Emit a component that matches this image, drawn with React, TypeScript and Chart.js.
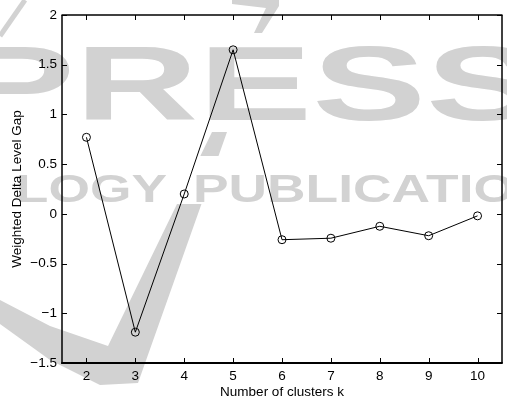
import React, { useEffect, useRef } from "react";
import { Chart, registerables } from "chart.js";

Chart.register(...registerables);

const clusters = [2, 3, 4, 5, 6, 7, 8, 9, 10];
const gapValues = [0.77, -1.19, 0.2, 1.65, -0.26, -0.245, -0.125, -0.22, -0.02];
const xTicks = [2, 3, 4, 5, 6, 7, 8, 9, 10];
const yTicks = [-1.5, -1, -0.5, 0, 0.5, 1, 1.5, 2];
const xTitle = "Number of clusters k";
const yTitle = "Weighted Delta Level Gap";

const FONT = "'Liberation Sans', Arial, Helvetica, sans-serif";
const FS = 13.5;
const WM = "#d2d2d2";

function poly(ctx: CanvasRenderingContext2D, pts: number[][]) {
  ctx.beginPath();
  ctx.moveTo(pts[0][0], pts[0][1]);
  for (let i = 1; i < pts.length; i++) ctx.lineTo(pts[i][0], pts[i][1]);
  ctx.closePath();
  ctx.fill();
}

const watermarkPlugin = {
  id: "watermark",
  beforeDraw(chart: any) {
    const ctx: CanvasRenderingContext2D = chart.ctx;
    ctx.save();
    ctx.fillStyle = "#fff";
    ctx.fillRect(0, 0, chart.width, chart.height);
    ctx.fillStyle = WM;
    ctx.strokeStyle = WM;
    // swoosh
    poly(ctx, [
      [0, 300], [50, 326], [108, 346], [212, 132], [227, 132],
      [138, 383], [100, 385], [50, 360], [0, 324],
    ]);
    // small strokes at top
    ctx.lineWidth = 5;
    ctx.beginPath();
    ctx.moveTo(0, 36);
    ctx.lineTo(25, 0);
    ctx.stroke();
    poly(ctx, [[232, 0], [279, 0], [279, 6], [262, 33], [254, 33], [266, 8], [232, 4]]);
    // knockouts
    ctx.fillStyle = "#fff";
    ctx.fillRect(150, 156, 90, 48);
    ctx.fillRect(150, 120, 100, 12);
    ctx.fillStyle = WM;
    ctx.textBaseline = "alphabetic";
    ctx.textAlign = "left";
    // PRESS
    ctx.font = `bold 105px ${FONT}`;
    const wP = ctx.measureText("P").width;
    const wR = ctx.measureText("RESS").width;
    const sx = 465 / wR;
    ctx.save();
    ctx.translate(75 - wP * sx, 120);
    ctx.scale(sx, 1);
    ctx.fillText("PRESS", 0, 0);
    ctx.restore();
    // second row
    ctx.font = `bold 39px ${FONT}`;
    const wPub = ctx.measureText("PUBLICATIO").width;
    const sx2 = 322 / wPub;
    ctx.save();
    ctx.translate(193, 202);
    ctx.scale(sx2, 1);
    ctx.fillText("PUBLICATIONS", 0, 0);
    ctx.restore();
    const wL = ctx.measureText("LOGY").width;
    ctx.save();
    ctx.translate(167 - wL * sx2, 202);
    ctx.scale(sx2, 1);
    ctx.fillText("LOGY", 0, 0);
    ctx.restore();
    ctx.restore();
  },
};

const boxPlugin = {
  id: "matlabBox",
  afterDraw(chart: any) {
    const ctx: CanvasRenderingContext2D = chart.ctx;
    const { left, right, top, bottom } = chart.chartArea;
    const xs = chart.scales.x;
    const ys = chart.scales.y;
    ctx.save();
    ctx.strokeStyle = "#000";
    const line = (x1: number, y1: number, x2: number, y2: number, w: number) => {
      ctx.lineWidth = w;
      ctx.beginPath();
      ctx.moveTo(x1, y1);
      ctx.lineTo(x2, y2);
      ctx.stroke();
    };
    const tl = 5;
    xTicks.forEach((v) => {
      const px = Math.round(xs.getPixelForValue(v)) + 0.5;
      line(px, bottom, px, bottom - tl, 1);
      line(px, top, px, top + tl, 1);
    });
    yTicks.forEach((v) => {
      const py = Math.round(ys.getPixelForValue(v)) + 0.5;
      line(left, py, left + tl, py, 1);
      line(right, py, right - tl, py, 1);
    });
    line(left - 0.5, top, right + 0.5, top, 1.5);
    line(right, top, right, bottom, 1.5);
    line(left, top, left, bottom + 1, 1.5);
    line(left - 0.75, bottom, right + 0.75, bottom, 2);
    ctx.restore();
  },
};

export default function App() {
  const ref = useRef<HTMLCanvasElement | null>(null);

  useEffect(() => {
    document.body.style.margin = "0";
    const canvas = ref.current;
    if (!canvas) return;
    const chart = new Chart(canvas, {
      type: "line",
      data: {
        datasets: [
          {
            data: clusters.map((k, i) => ({ x: k, y: gapValues[i] })),
            borderColor: "#000",
            borderWidth: 1,
            pointRadius: 4,
            pointBorderColor: "#000",
            pointBackgroundColor: "rgba(0,0,0,0)",
            pointBorderWidth: 1,
            tension: 0,
            fill: false,
          },
        ],
      },
      options: {
        animation: false,
        responsive: false,
        devicePixelRatio: 1,
        layout: { padding: { top: 15, right: 5, left: 0, bottom: 0 } },
        plugins: { legend: { display: false }, tooltip: { enabled: false } },
        scales: {
          x: {
            type: "linear",
            min: 1.5,
            max: 10.5,
            afterBuildTicks: (a: any) => {
              a.ticks = xTicks.map((v) => ({ value: v }));
            },
            afterFit: (a: any) => {
              a.height = 39;
            },
            grid: { display: false, drawTicks: false },
            border: { display: false },
            ticks: {
              color: "#000",
              font: { family: FONT, size: FS },
              padding: 5,
              maxRotation: 0,
              autoSkip: false,
              callback: (v: any) => String(v),
            },
            title: {
              display: true,
              text: xTitle,
              color: "#000",
              font: { family: FONT, size: FS },
              padding: { top: 0, bottom: 2 },
            },
          },
          y: {
            type: "linear",
            min: -1.5,
            max: 2,
            afterBuildTicks: (a: any) => {
              a.ticks = yTicks.map((v) => ({ value: v }));
            },
            afterFit: (a: any) => {
              a.width = 62;
            },
            grid: { display: false, drawTicks: false },
            border: { display: false },
            ticks: {
              color: "#000",
              font: { family: FONT, size: FS },
              padding: 5,
              autoSkip: false,
              callback: (v: any) => String(v).replace("-", "\u2212"),
            },
            title: {
              display: true,
              text: yTitle,
              color: "#000",
              font: { family: FONT, size: FS },
              padding: { top: 9, bottom: 0 },
            },
          },
        },
      },
      plugins: [watermarkPlugin, boxPlugin],
    } as any);
    return () => chart.destroy();
  }, []);

  return (
    <div style={{ width: 507, height: 402 }}>
      <canvas ref={ref} width={507} height={402} style={{ display: "block" }} />
    </div>
  );
}
